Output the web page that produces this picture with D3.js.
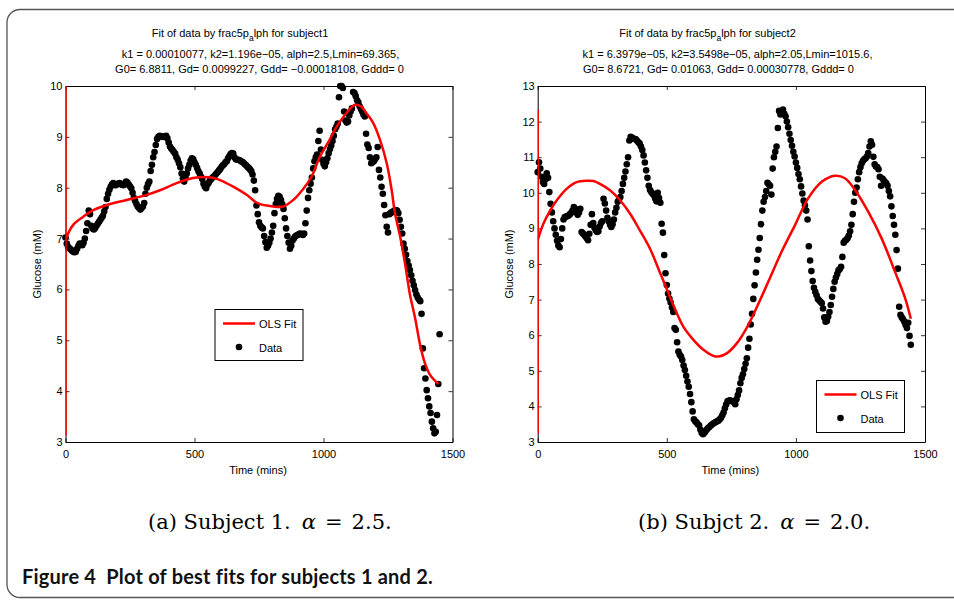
<!DOCTYPE html>
<html><head><meta charset="utf-8">
<script src="https://cdn.jsdelivr.net/npm/d3@7"></script>
<style>
body{margin:0;background:#fff;}
svg{display:block;}
</style>
</head><body>
<svg id="chart" width="954" height="601"></svg>
<script>
// ---------- DATA ----------
const sampleStep = 5; // minutes between samples
const glucose1 = [
7.02,6.90,6.84,6.81,6.79,6.76,6.74,6.73,6.74,6.80,6.86,6.90,6.89,6.87,6.92,7.00,7.15,7.30,7.55,7.48,
7.25,7.20,7.18,7.21,7.25,7.29,7.33,7.37,7.41,7.45,7.53,7.62,7.78,7.88,7.96,8.02,8.06,8.09,8.07,8.05,
8.07,8.08,8.09,8.07,8.06,8.05,8.08,8.12,8.10,8.06,8.03,7.99,7.90,7.80,7.74,7.68,7.63,7.60,7.57,7.60,
7.63,7.70,7.88,8.00,8.07,8.12,8.33,8.45,8.60,8.70,8.84,8.96,9.00,9.02,9.01,9.00,9.00,9.01,9.02,8.97,
8.89,8.81,8.77,8.74,8.70,8.67,8.60,8.55,8.48,8.40,8.28,8.18,8.12,8.20,8.28,8.38,8.45,8.53,8.58,8.56,
8.50,8.45,8.39,8.33,8.28,8.22,8.17,8.08,8.02,7.99,8.06,8.10,8.14,8.17,8.20,8.22,8.25,8.28,8.31,8.34,
8.37,8.41,8.44,8.46,8.50,8.52,8.58,8.62,8.66,8.68,8.67,8.60,8.56,8.55,8.55,8.54,8.52,8.51,8.49,8.46,
8.44,8.41,8.39,8.36,8.33,8.26,8.14,7.95,7.65,7.48,7.32,7.25,7.22,7.20,7.05,6.93,6.82,6.86,6.92,7.00,
7.12,7.25,7.50,7.68,7.78,7.84,7.82,7.76,7.68,7.58,7.40,7.20,7.05,6.92,6.80,6.86,6.96,7.00,7.04,7.06,
7.07,7.09,7.10,7.09,7.07,7.10,7.30,7.55,7.80,7.95,8.08,8.20,8.38,8.52,8.60,8.65,8.92,9.12,8.75,8.55,
8.47,8.42,8.50,8.58,8.68,8.76,8.83,8.92,9.02,9.15,9.20,9.26,9.78,10.00,10.00,9.96,9.50,9.32,9.28,9.30,
9.42,9.50,9.56,9.88,9.86,9.80,9.72,9.68,9.60,9.55,9.50,9.44,9.40,9.06,8.85,8.78,8.60,8.48,8.50,8.52,
8.56,8.60,8.80,8.35,8.20,8.02,7.88,7.66,7.46,7.23,7.12,7.48,7.50,7.52,7.53,7.55,7.56,7.55,7.50,7.37,
7.23,7.10,6.90,6.80,6.68,6.56,6.47,6.38,6.28,6.17,6.08,5.99,5.90,5.84,5.80,5.77,5.52,4.84,4.45,4.25,
4.02,3.86,3.70,3.57,3.40,3.27,3.17,3.20,3.53,4.14,5.12
];
const glucose2 = [
10.58,10.86,10.68,10.45,10.30,10.25,10.38,10.55,10.42,10.02,9.69,9.45,9.20,9.00,8.82,8.65,8.52,8.47,8.70,9.00,
9.25,9.32,9.33,9.35,9.36,9.40,9.44,9.50,9.60,9.55,9.45,9.38,9.45,9.55,8.90,8.86,8.82,8.77,8.72,8.67,
8.85,9.10,9.40,9.15,9.02,8.95,8.90,8.92,9.05,9.15,9.20,9.83,9.70,9.50,9.30,9.20,9.10,9.04,9.12,9.25,
9.45,9.58,9.75,9.82,9.88,10.05,10.25,10.42,10.60,10.80,11.00,11.47,11.57,11.55,11.52,11.52,11.50,11.46,11.42,11.38,
11.30,11.20,11.05,10.85,10.63,10.42,10.20,10.08,10.02,9.97,9.93,9.84,9.76,10.00,9.85,9.72,9.13,8.88,8.25,7.74,
7.41,7.17,7.03,6.92,6.78,6.65,6.20,6.15,5.80,5.54,5.45,5.40,5.30,5.15,5.02,4.86,4.70,4.55,4.35,4.12,
3.86,3.64,3.58,3.55,3.50,3.47,3.35,3.26,3.22,3.25,3.30,3.35,3.39,3.42,3.46,3.49,3.52,3.54,3.56,3.58,
3.60,3.64,3.68,3.75,3.83,3.95,4.05,4.14,4.16,4.17,4.15,4.14,4.13,4.06,4.20,4.32,4.45,4.65,4.80,4.90,
5.05,5.20,5.35,5.65,5.90,6.30,6.60,7.02,7.40,7.76,8.12,8.40,8.73,9.12,9.50,9.75,9.88,10.05,10.28,10.24,
10.20,9.95,10.68,11.00,11.15,11.30,11.82,12.30,12.20,12.28,12.34,12.22,12.15,12.00,11.84,11.66,11.48,11.32,11.15,11.02,
10.85,10.70,10.53,10.38,10.18,9.98,9.78,9.65,9.50,9.25,8.50,8.10,7.80,7.52,7.33,7.22,7.12,7.02,6.98,6.94,
6.90,6.75,6.50,6.38,6.40,6.52,6.65,6.85,7.08,7.30,7.50,7.62,7.72,7.82,7.86,7.92,8.20,8.60,8.65,8.68,
8.72,8.80,8.92,9.10,9.40,9.75,10.00,10.15,10.38,10.58,10.72,10.83,10.90,10.94,10.97,11.02,11.12,11.30,11.45,11.35,
11.01,10.80,10.74,10.72,10.66,10.45,10.20,10.40,10.35,10.30,10.27,10.20,10.05,9.90,9.62,9.35,9.10,8.82,8.39,7.87,
6.80,6.57,6.50,6.45,6.38,6.29,6.20,6.35,5.98,5.73
];
const fitTime1 = [0,0,0,5,30,69,108,160,237,315,366,431,495,540,573,599,650,702,747,805,844,883,922,954,986,1019,1051,1083,1122,1145,1167,1193,1219,1245,1264,1277,1297,1316,1335,1355,1374,1393,1413,1445];
const fitGlucose1 = [3.13,10,6.95,7.04,7.27,7.43,7.56,7.66,7.76,7.86,7.95,8.09,8.19,8.21,8.19,8.15,8.02,7.86,7.69,7.63,7.63,7.76,7.98,8.22,8.61,8.9,9.2,9.43,9.63,9.6,9.46,9.27,8.94,8.48,7.96,7.5,7.04,6.51,5.9,5.44,4.92,4.55,4.32,4.14];
const fitTime2 = [0,0,0,22,48,74,112,151,190,216,241,280,319,358,396,435,474,493,525,564,603,642,680,700,732,771,809,848,893,945,997,1048,1100,1151,1190,1229,1280,1332,1384,1423,1445];
const fitGlucose2 = [3.24,12.33,8.67,9.13,9.5,9.79,10.11,10.3,10.34,10.33,10.25,10.07,9.79,9.41,8.94,8.43,7.75,7.42,6.85,6.24,5.87,5.59,5.42,5.4,5.49,5.77,6.2,6.78,7.5,8.35,9.1,9.85,10.31,10.48,10.41,10.08,9.47,8.72,7.78,7.04,6.46];

const xTickValues = [0, 500, 1000, 1500];
const yTickValues1 = [3, 4, 5, 6, 7, 8, 9, 10];
const yTickValues2 = [3, 4, 5, 6, 7, 8, 9, 10, 11, 12, 13];
const titles = ["subject1", "subject2"];
const paramLines1 = ["k1 = 0.00010077, k2=1.196e\u221205, alph=2.5,Lmin=69.365,", "G0= 6.8811, Gd= 0.0099227, Gdd= \u22120.00018108, Gddd= 0"];
const paramLines2 = ["k1 = 6.3979e\u221205, k2=3.5498e\u221205, alph=2.05,Lmin=1015.6,", "G0= 8.6721, Gd= 0.01063, Gdd= 0.00030778, Gddd= 0"];
const legendLabels = ["OLS Fit", "Data"];
const captions = [["(a) Subject 1.", "2.5."], ["(b) Subjct 2.", "2.0."]];
const figureCaption = "Figure 4\u00a0\u00a0Plot of best fits for subjects 1 and 2.";

// ---------- DRAW ----------
const svg = d3.select("#chart");
const SANS = '"Liberation Sans", Arial, Helvetica, sans-serif';

svg.append("rect").attr("x", 7).attr("y", 9.5).attr("width", 980).attr("height", 588)
  .attr("rx", 13).attr("fill", "none").attr("stroke", "#555").attr("stroke-width", 1.3);

const panels = [
  {glucose: glucose1, fitT: fitTime1, fitG: fitGlucose1, yDomain: [3, 10], yTicks: yTickValues1,
   left: 65.5, right: 452.5, title: titles[0], params: paramLines1, titleX: 240, paramX: [260.5, 259.5],
   legend: {x: 215, y: 309.5, w: 88, h: 51}, caption: captions[0], capX: 148},
  {glucose: glucose2, fitT: fitTime2, fitG: fitGlucose2, yDomain: [3, 13], yTicks: yTickValues2,
   left: 537.7, right: 925, title: titles[1], params: paramLines2, titleX: 707.5, paramX: [727.5, 718.5],
   legend: {x: 816.5, y: 380.5, w: 88, h: 52}, caption: captions[1], capX: 638}
];
const plotTop = 86, plotBottom = 442;

panels.forEach((p, pi) => {
  const x = d3.scaleLinear().domain([0, 1500]).range([p.left, p.right]);
  const y = d3.scaleLinear().domain(p.yDomain).range([plotBottom, plotTop]);
  const g = svg.append("g");

  const clipId = "clip" + pi;
  svg.append("clipPath").attr("id", clipId).append("rect")
    .attr("x", p.left).attr("y", plotTop).attr("width", p.right - p.left).attr("height", plotBottom - plotTop);

  const styleAxis = sel => {
    sel.attr("font-family", SANS).attr("font-size", 11);
    sel.selectAll(".domain").attr("stroke", "#000").attr("stroke-width", 1);
    sel.selectAll(".tick line").attr("stroke", "#000").attr("stroke-width", 0.8);
    sel.selectAll(".tick text").attr("fill", "#000");
  };
  g.append("g").attr("transform", `translate(0,${plotBottom})`)
    .call(d3.axisBottom(x).tickValues(xTickValues).tickSizeInner(-4).tickSizeOuter(0).tickPadding(8).tickFormat(d3.format("d")))
    .call(styleAxis);
  g.append("g").attr("transform", `translate(0,${plotTop})`)
    .call(d3.axisTop(x).tickValues(xTickValues).tickSizeInner(-4).tickSizeOuter(0).tickFormat(""))
    .call(styleAxis);
  g.append("g").attr("transform", `translate(${p.left},0)`)
    .call(d3.axisLeft(y).tickValues(p.yTicks).tickSizeInner(-4).tickSizeOuter(0).tickPadding(3).tickFormat(d3.format("d")))
    .call(styleAxis);
  g.append("g").attr("transform", `translate(${p.right},0)`)
    .call(d3.axisRight(y).tickValues(p.yTicks).tickSizeInner(-4).tickSizeOuter(0).tickFormat(""))
    .call(styleAxis);

  g.append("text").attr("x", (p.left + p.right) / 2 - 1).attr("y", 474)
    .attr("text-anchor", "middle").attr("font-family", SANS).attr("font-size", 11).text("Time (mins)");
  g.append("text").attr("transform", `translate(${p.left - 25},${(plotTop + plotBottom) / 2}) rotate(-90)`)
    .attr("text-anchor", "middle").attr("font-family", SANS).attr("font-size", 11).text("Glucose (mM)");

  const t = g.append("text").attr("x", p.titleX).attr("y", 37).attr("text-anchor", "middle")
    .attr("font-family", SANS).attr("font-size", 11);
  t.append("tspan").text("Fit of data by frac5p");
  t.append("tspan").attr("dy", 4).attr("font-size", 8.5).text("a");
  t.append("tspan").attr("dy", -4).text("lph for " + p.title);
  p.params.forEach((line, i) => {
    g.append("text").attr("x", p.paramX[i]).attr("y", 58 + i * 15).attr("text-anchor", "middle")
      .attr("font-family", SANS).attr("font-size", 11).text(line);
  });

  const times = p.glucose.map((_, i) => i * sampleStep);
  g.append("g").selectAll("circle").data(p.glucose).join("circle")
    .attr("cx", (d, i) => x(times[i])).attr("cy", d => y(d)).attr("r", 3.3).attr("fill", "#000");

  const fitPts = p.fitT.map((tt, i) => [tt, p.fitG[i]]);
  const fitLayer = g.append("g").attr("clip-path", `url(#${clipId})`);
  fitLayer.append("path").attr("d", d3.line().x(d => x(d[0])).y(d => y(d[1]))(fitPts.slice(0, 3)))
    .attr("fill", "none").attr("stroke", "#ff0000").attr("stroke-width", 2.5);
  fitLayer.append("path").attr("d", d3.line().x(d => x(d[0])).y(d => y(d[1])).curve(d3.curveCatmullRom.alpha(0.5))(fitPts.slice(2)))
    .attr("fill", "none").attr("stroke", "#ff0000").attr("stroke-width", 2.5);

  const L = p.legend;
  const lg = g.append("g");
  lg.append("rect").attr("x", L.x).attr("y", L.y).attr("width", L.w).attr("height", L.h)
    .attr("fill", "#fff").attr("stroke", "#000").attr("stroke-width", 1);
  lg.append("line").attr("x1", L.x + 8).attr("x2", L.x + 40).attr("y1", L.y + 14).attr("y2", L.y + 14)
    .attr("stroke", "#ff0000").attr("stroke-width", 2.5);
  lg.append("text").attr("x", L.x + 44).attr("y", L.y + 18).attr("font-family", SANS).attr("font-size", 11).text(legendLabels[0]);
  lg.append("circle").attr("cx", L.x + 24).attr("cy", L.y + 37.5).attr("r", 3.3).attr("fill", "#000");
  lg.append("text").attr("x", L.x + 44).attr("y", L.y + 42).attr("font-family", SANS).attr("font-size", 11).text(legendLabels[1]);

  const c = svg.append("text").attr("x", p.capX).attr("y", 529)
    .attr("font-family", '"DejaVu Serif", "Liberation Serif", serif').attr("font-size", 21);
  c.append("tspan").text(p.caption[0]);
  c.append("tspan").attr("dx", 11).attr("font-style", "italic").text("\u03B1");
  c.append("tspan").attr("dx", 9).text("=");
  c.append("tspan").attr("dx", 9).text(p.caption[1]);
});

svg.append("text").attr("x", 22).attr("y", 584).attr("font-family", 'Lato, "Open Sans", sans-serif')
  .attr("font-weight", "bold").attr("font-size", 20).attr("letter-spacing", 0.2).attr("fill", "#111").text(figureCaption);
</script>
</body></html>
